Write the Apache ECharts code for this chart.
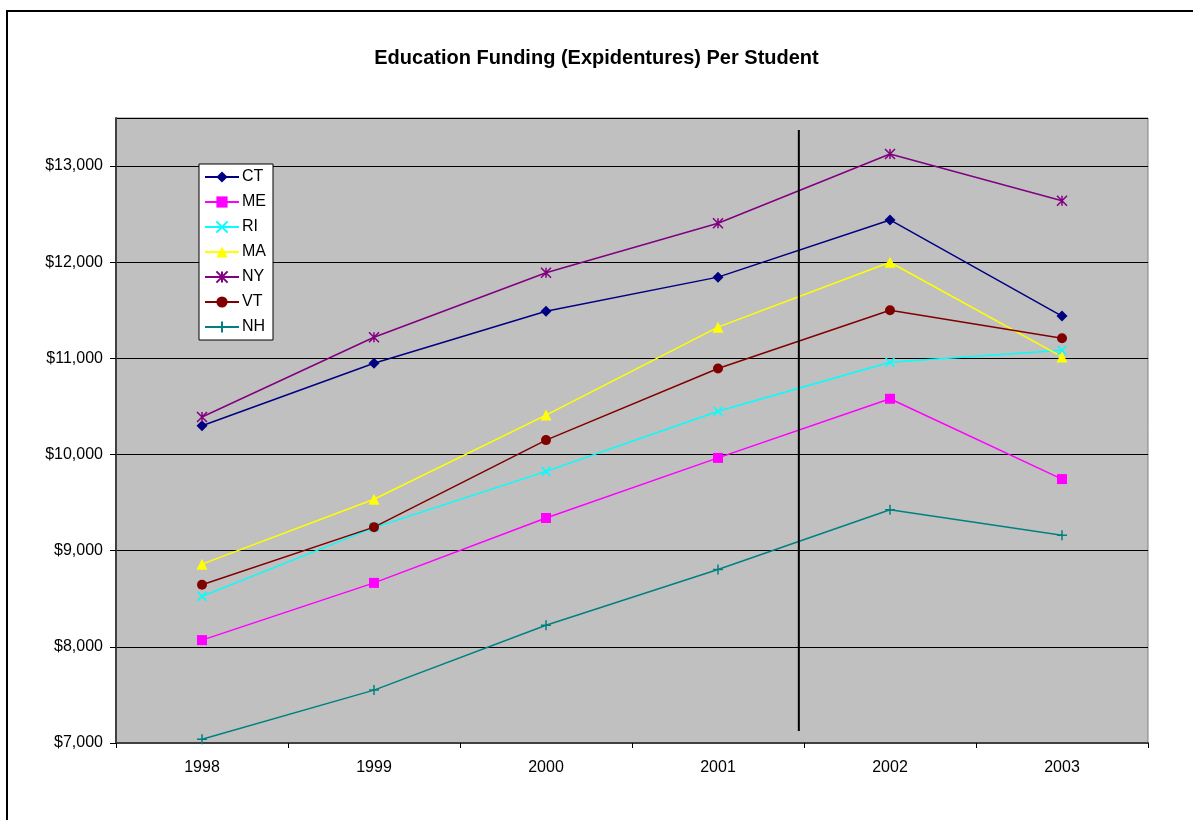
<!DOCTYPE html>
<html>
<head>
<meta charset="utf-8">
<script src="https://cdn.jsdelivr.net/npm/echarts@6/dist/echarts.min.js"></script>
<style>html,body{margin:0;padding:0;background:#fff}#c{width:1193px;height:820px}</style>
</head>
<body>
<div id="c"></div>
<script>
const years = ['1998', '1999', '2000', '2001', '2002', '2003'];
const CT = [10300, 10950, 11490, 11845, 12440, 11440];
const ME = [8070, 8665, 9340, 9965, 10580, 9745];
const RI = [8525, 9240, 9825, 10450, 10960, 11085];
const MA = [8860, 9535, 10410, 11325, 12000, 11015];
const NY = [10390, 11220, 11890, 12405, 13125, 12640];
const VT = [8645, 9245, 10150, 10895, 11500, 11210];
const NH = [7040, 7550, 8225, 8805, 9425, 9160];
// vertical divider drawn between 2001 and 2002 (category index position, value range)
const dividerX = 3.47;
const dividerY = [7125, 13375];

const cross = 'path://M0,0L10,10M10,0L0,10';
const star = 'path://M0,0L10,10M10,0L0,10M5,0L5,10';
const plus = 'path://M0,5L10,5M5,0L5,10';

function s(name, data, color, symbol, size, stroke) {
  return {
    name, type: 'line', data, symbol, symbolSize: size,
    lineStyle: { color, width: 1.5 },
    itemStyle: stroke ? { color: color, borderColor: color, borderWidth: 1.5 } : { color: color },
    emphasis: { disabled: true },
    z: 3
  };
}

const chart = echarts.init(document.getElementById('c'));
chart.setOption({
  animation: false,
  backgroundColor: '#fff',
  textStyle: { fontFamily: 'Liberation Sans, Arial, sans-serif' },
  title: {
    text: 'Education Funding (Expidentures) Per Student',
    left: 'center', top: 43,
    textStyle: { fontSize: 20, fontWeight: 'bold', color: '#000', fontFamily: 'Liberation Sans, Arial, sans-serif' }
  },
  graphic: [{
    type: 'rect', shape: { x: 7, y: 11, width: 1200, height: 900 },
    style: { fill: 'none', stroke: '#000', lineWidth: 2 }, silent: true, z: 100
  }],
  grid: {
    left: 116, right: 45, top: 118, bottom: 77,
    show: true, backgroundColor: '#C0C0C0', borderColor: '#808080', borderWidth: 1
  },
  legend: {
    data: ['CT', 'ME', 'RI', 'MA', 'NY', 'VT', 'NH'],
    orient: 'vertical', left: 199, top: 164,
    backgroundColor: '#fff', borderColor: '#000', borderWidth: 1,
    padding: [5, 7, 5, 5],
    itemWidth: 34, itemHeight: 14, itemGap: 9,
    textStyle: { fontSize: 16, color: '#000', padding: [0, 0, 0, -2] }
  },
  xAxis: [{
    type: 'category', data: years, boundaryGap: true,
    axisLine: { lineStyle: { color: '#404040', width: 2 } },
    axisTick: { show: true, interval: 0, length: 5, lineStyle: { color: '#000' } },
    axisLabel: { fontSize: 16, color: '#000', margin: 17 },
    splitLine: { show: false }
  }, {
    type: 'value', min: -0.5, max: 5.5, show: false
  }],
  yAxis: {
    type: 'value', min: 7000, max: 13500, interval: 1000,
    axisLine: { show: true, onZero: false, lineStyle: { color: '#404040', width: 2 } },
    axisTick: { show: true, length: 6, lineStyle: { color: '#000' } },
    axisLabel: {
      fontSize: 16, color: '#000', margin: 13, showMaxLabel: false,
      formatter: v => '$' + v.toLocaleString('en-US')
    },
    splitLine: { show: true, lineStyle: { color: '#000', width: 1 } }
  },
  series: [
    s('CT', CT, '#000080', 'diamond', 11),
    s('ME', ME, '#FF00FF', 'rect', 10),
    s('RI', RI, '#00FFFF', cross, 9, true),
    s('MA', MA, '#FFFF00', 'triangle', 11),
    s('NY', NY, '#800080', star, 10, true),
    s('VT', VT, '#800000', 'circle', 10),
    s('NH', NH, '#008080', plus, 10, true),
    {
      name: 'divider', type: 'line', xAxisIndex: 1,
      data: [[dividerX, dividerY[0]], [dividerX, dividerY[1]]],
      symbol: 'none', lineStyle: { color: '#000', width: 2 }, silent: true, z: 5
    }
  ]
});
</script>
</body>
</html>
